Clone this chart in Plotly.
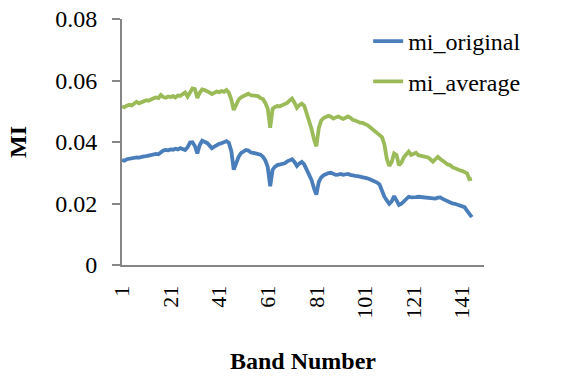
import plotly.graph_objects as go

# Mutual information per spectral band
bands = list(range(1, 146))

mi_original = [
    0.0341, 0.0339, 0.0344, 0.0346, 0.0345, 0.0348, 0.0350, 0.0349, 0.0352, 0.0353,
    0.0354, 0.0356, 0.0357, 0.0359, 0.0361, 0.0360, 0.0366, 0.0372, 0.0374, 0.0373,
    0.0376, 0.0375, 0.0378, 0.0376, 0.0380, 0.0377, 0.0374, 0.0383, 0.0398, 0.0399,
    0.0387, 0.0363, 0.0390, 0.0404, 0.0401, 0.0397, 0.0389, 0.0380, 0.0385, 0.0391,
    0.0394, 0.0396, 0.0399, 0.0403, 0.0397, 0.0370, 0.0310, 0.0335, 0.0352, 0.0364,
    0.0370, 0.0374, 0.0372, 0.0366, 0.0365, 0.0364, 0.0362, 0.0359, 0.0352, 0.0340,
    0.0318, 0.0256, 0.0310, 0.0320, 0.0325, 0.0327, 0.0329, 0.0331, 0.0337, 0.0342,
    0.0344, 0.0335, 0.0322, 0.0330, 0.0335, 0.0327, 0.0312, 0.0296, 0.0277, 0.0250,
    0.0229, 0.0270, 0.0285, 0.0292, 0.0296, 0.0299, 0.0300, 0.0296, 0.0293, 0.0294,
    0.0296, 0.0293, 0.0294, 0.0296, 0.0293, 0.0290, 0.0290, 0.0289, 0.0288, 0.0287,
    0.0285, 0.0282, 0.0279, 0.0276, 0.0272, 0.0268, 0.0262, 0.0240, 0.0222, 0.0210,
    0.0199, 0.0207, 0.0224, 0.0210, 0.0195, 0.0199, 0.0207, 0.0217, 0.0222, 0.0220,
    0.0219, 0.0221, 0.0222, 0.0221, 0.0218, 0.0217, 0.0216, 0.0215, 0.0217, 0.0216,
    0.0219, 0.0220, 0.0215, 0.0211, 0.0206, 0.0203, 0.0200, 0.0199, 0.0197, 0.0195,
    0.0191, 0.0188, 0.0177, 0.0165, 0.0156,
]

mi_average = [
    0.0515, 0.0513, 0.0518, 0.0521, 0.0519, 0.0524, 0.0531, 0.0526, 0.0529, 0.0533,
    0.0536, 0.0534, 0.0539, 0.0542, 0.0545, 0.0543, 0.0553, 0.0546, 0.0544, 0.0548,
    0.0546, 0.0549, 0.0545, 0.0551, 0.0550, 0.0554, 0.0561, 0.0548, 0.0562, 0.0574,
    0.0572, 0.0543, 0.0560, 0.0571, 0.0569, 0.0566, 0.0561, 0.0556, 0.0559, 0.0564,
    0.0562, 0.0566, 0.0563, 0.0569, 0.0560, 0.0538, 0.0504, 0.0522, 0.0538, 0.0545,
    0.0550, 0.0555, 0.0557, 0.0552, 0.0550, 0.0548, 0.0549, 0.0543, 0.0540, 0.0527,
    0.0508, 0.0446, 0.0508, 0.0514, 0.0517, 0.0516, 0.0519, 0.0521, 0.0527, 0.0535,
    0.0541, 0.0528, 0.0511, 0.0520, 0.0525, 0.0518, 0.0495, 0.0470, 0.0443, 0.0410,
    0.0386, 0.0445, 0.0470, 0.0478, 0.0481, 0.0485, 0.0482, 0.0476, 0.0480, 0.0483,
    0.0479, 0.0475, 0.0479, 0.0483, 0.0479, 0.0472, 0.0470, 0.0466, 0.0463, 0.0462,
    0.0459, 0.0455, 0.0449, 0.0443, 0.0437, 0.0431, 0.0424, 0.0416, 0.0392, 0.0345,
    0.0322, 0.0335, 0.0363, 0.0358, 0.0324, 0.0333, 0.0350, 0.0362, 0.0369, 0.0358,
    0.0360, 0.0365, 0.0357, 0.0355, 0.0353, 0.0352, 0.0350, 0.0343, 0.0336, 0.0344,
    0.0352, 0.0345, 0.0337, 0.0333, 0.0327, 0.0325, 0.0318, 0.0314, 0.0310, 0.0308,
    0.0306, 0.0302, 0.0298, 0.0279, 0.0281,
]

x_ticks = [1, 21, 41, 61, 81, 101, 121, 141]
y_ticks = [0, 0.02, 0.04, 0.06, 0.08]
y_tick_text = ["0", "0.02", "0.04", "0.06", "0.08"]

FONT = "Liberation Serif"
AXIS_GREY = "#868686"

fig = go.Figure()
fig.add_trace(go.Scatter(
    x=bands, y=mi_original, mode="lines", name="mi_original",
    line=dict(color="#4A7EBB", width=3.8), legendgroup="a",
))
fig.add_trace(go.Scatter(
    x=bands, y=mi_average, mode="lines", name="mi_average",
    line=dict(color="#9BBB59", width=3.8), legendgroup="b",
))

fig.update_layout(
    width=576, height=377,
    margin=dict(l=122, r=92, t=19, b=112, autoexpand=False),
    paper_bgcolor="white", plot_bgcolor="white",
    font=dict(family=FONT, size=23, color="black"),
    showlegend=True,
    legend=dict(
        x=0.68, y=1.0, xanchor="left", yanchor="top",
        bgcolor="rgba(0,0,0,0)", font=dict(family=FONT, size=24, color="black"),
        tracegroupgap=6, traceorder="grouped",
    ),
    xaxis=dict(
        range=[1, 150], tickvals=x_ticks, ticks="", automargin=False,
        tickangle=-90, tickfont=dict(family=FONT, size=22), ticklabelstandoff=10,
        showgrid=False, zeroline=False,
        showline=True, linecolor=AXIS_GREY, linewidth=2,
        title=dict(text="<b>Band Number</b>", font=dict(family=FONT, size=24), standoff=34),
    ),
    yaxis=dict(
        range=[0, 0.08], tickvals=y_ticks, ticktext=y_tick_text, automargin=False,
        ticks="outside", ticklen=8, tickwidth=2, tickcolor=AXIS_GREY,
        ticklabelstandoff=10, tickfont=dict(family=FONT, size=24),
        showgrid=False, zeroline=False,
        showline=True, linecolor=AXIS_GREY, linewidth=2,
        title=dict(text="<b>MI</b>", font=dict(family=FONT, size=24), standoff=22),
    ),
)

fig.write_html("out.html")
